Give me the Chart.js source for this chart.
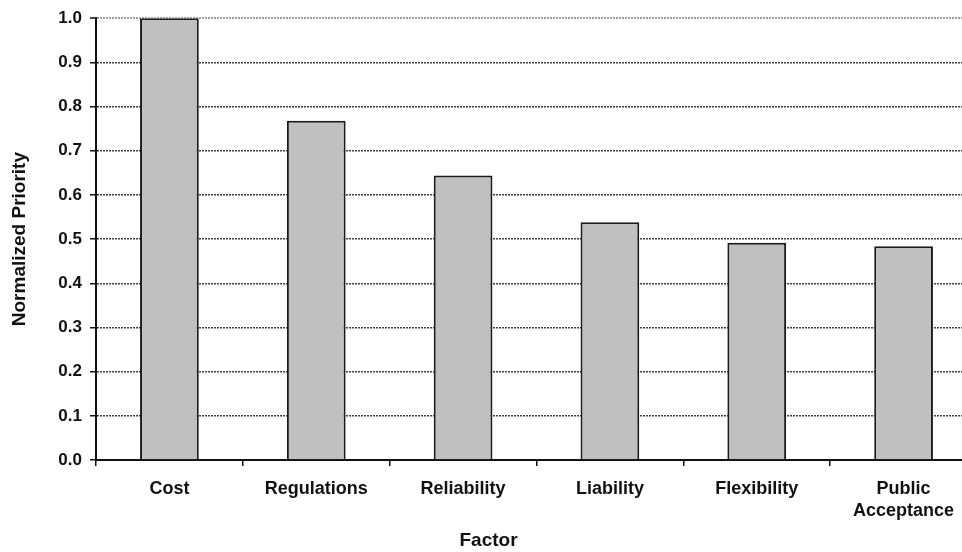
<!DOCTYPE html>
<html>
<head>
<meta charset="utf-8">
<script src="https://cdn.jsdelivr.net/npm/chart.js@4"></script>
<style>
  html, body { margin: 0; padding: 0; background: #fff; overflow: hidden; }
  #wrap { position: relative; width: 977px; height: 552px; }
</style>
</head>
<body>
<div id="wrap"><canvas id="chart"></canvas></div>
<script>
// Factors and their normalized priority scores
const factors = ['Cost', 'Regulations', 'Reliability', 'Liability', 'Flexibility', ['Public', 'Acceptance']];
const priorities = [1.0, 0.768, 0.644, 0.538, 0.492, 0.484];
const yTicks = [0.0, 0.1, 0.2, 0.3, 0.4, 0.5, 0.6, 0.7, 0.8, 0.9, 1.0];

const FONT = "'Liberation Sans', Arial, Helvetica, sans-serif";
const INK = '#111';

new Chart(document.getElementById('chart'), {
  type: 'bar',
  data: {
    labels: factors,
    datasets: [{
      label: 'Normalized Priority',
      data: priorities,
      backgroundColor: '#c0c0c0',
      borderColor: '#1a1a1a',
      borderWidth: 2,
      barPercentage: 0.4,
      categoryPercentage: 1.0
    }]
  },
  options: {
    responsive: true,
    maintainAspectRatio: false,
    animation: false,
    layout: { padding: { top: 17.5, left: 0, right: 0, bottom: 0 } },
    plugins: {
      legend: { display: false },
      tooltip: { enabled: false },
      title: {
        display: true,
        position: 'bottom',
        text: 'Factor',
        color: INK,
        font: { family: FONT, size: 19, weight: 'bold', lineHeight: 1.2 },
        padding: { top: 0, bottom: 0 }
      }
    },
    scales: {
      x: {
        offset: true,
        afterFit: (s) => { s.height = 69.2; },
        grid: {
          display: true,
          offset: true,
          drawOnChartArea: false,
          drawTicks: true,
          tickLength: 6,
          color: INK,
          lineWidth: 1.5
        },
        border: { display: true, color: INK, width: 2 },
        ticks: {
          color: INK,
          padding: 12,
          maxRotation: 0,
          autoSkip: false,
          font: { family: FONT, size: 18, weight: 'bold', lineHeight: 1.22 }
        }
      },
      y: {
        min: 0,
        max: 1,
        afterFit: (s) => { s.width = 96; },
        afterBuildTicks: (s) => { s.ticks = yTicks.map(v => ({ value: v })); },
        grid: {
          drawTicks: true,
          tickLength: 6,
          lineWidth: (ctx) => (ctx.tick && ctx.tick.value === 1 ? 2 : 1.5),
          color: (ctx) => {
            const v = ctx.tick ? ctx.tick.value : null;
            if (v === 1) return '#a0a0a0';
            if (v === 0) return INK;
            return '#404040';
          },
          tickColor: INK,
          tickWidth: 1.5,
          tickBorderDash: []
        },
        border: { display: true, color: INK, width: 2, dash: [2, 1] },
        ticks: {
          color: INK,
          padding: 8,
          font: { family: FONT, size: 17, weight: 'bold' },
          callback: (v) => Number(v).toFixed(1)
        },
        title: {
          display: true,
          text: 'Normalized Priority',
          color: INK,
          font: { family: FONT, size: 19, weight: 'bold', lineHeight: 1.2 },
          padding: { top: 8, bottom: 0 }
        }
      }
    }
  }
});
</script>
</body>
</html>
